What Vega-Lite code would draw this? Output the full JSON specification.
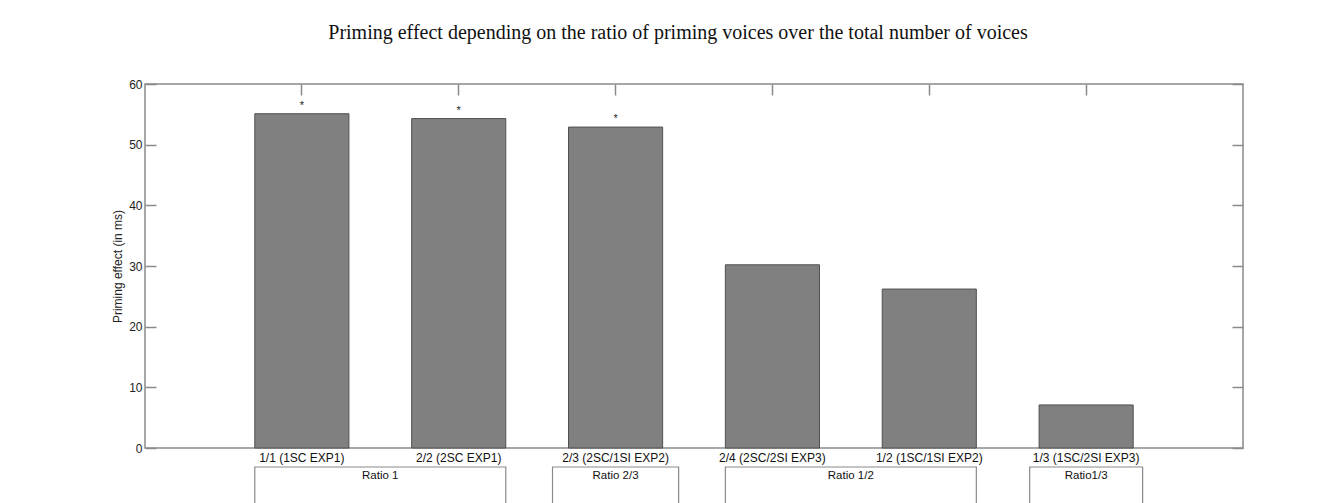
{
  "$schema": "https://vega.github.io/schema/vega-lite/v6.json",
  "width": 1098,
  "height": 364,
  "autosize": {"type": "none"},
  "padding": {"left": 145, "top": 84, "right": 99, "bottom": 55},
  "background": "white",
  "title": {
    "text": "Priming effect depending on the ratio of priming voices over the total number of voices",
    "font": "Liberation Serif",
    "fontSize": 20,
    "fontWeight": "normal",
    "color": "#111111",
    "anchor": "middle",
    "frame": "group",
    "dx": -16,
    "offset": 35
  },
  "config": {
    "view": {"stroke": "#8a8a8a", "strokeWidth": 1.5},
    "font": "Liberation Sans"
  },
  "datasets": {
    "bars": [
      {"condition": "1/1 (1SC EXP1)", "effect": 55.1, "sig": "*"},
      {"condition": "2/2 (2SC EXP1)", "effect": 54.3, "sig": "*"},
      {"condition": "2/3 (2SC/1SI EXP2)", "effect": 52.9, "sig": "*"},
      {"condition": "2/4 (2SC/2SI EXP3)", "effect": 30.2, "sig": ""},
      {"condition": "1/2 (1SC/1SI EXP2)", "effect": 26.2, "sig": ""},
      {"condition": "1/3 (1SC/2SI EXP3)", "effect": 7.1, "sig": ""}
    ],
    "pairs": [
      {"group": "Ratio 1", "first": "1/1 (1SC EXP1)", "last": "2/2 (2SC EXP1)"},
      {"group": "Ratio 1/2", "first": "2/4 (2SC/2SI EXP3)", "last": "1/2 (1SC/1SI EXP2)"}
    ],
    "singles": [
      {"group": "Ratio 2/3", "bar": "2/3 (2SC/1SI EXP2)"},
      {"group": "Ratio1/3", "bar": "1/3 (1SC/2SI EXP3)"}
    ]
  },
  "layer": [
    {
      "data": {"name": "bars"},
      "mark": {"type": "bar", "fill": "#808080", "stroke": "#505050", "strokeWidth": 1},
      "encoding": {
        "x": {
          "field": "condition",
          "type": "nominal",
          "scale": {
            "domain": ["1/1 (1SC EXP1)", "2/2 (2SC EXP1)", "2/3 (2SC/1SI EXP2)", "2/4 (2SC/2SI EXP3)", "1/2 (1SC/1SI EXP2)", "1/3 (1SC/2SI EXP3)"],
            "paddingInner": 0.4,
            "paddingOuter": 0.7
          },
          "axis": {
            "orient": "bottom",
            "title": null,
            "labelAngle": 0,
            "ticks": false,
            "domain": false,
            "labelFontSize": 12,
            "labelColor": "#111111",
            "labelPadding": 4,
            "labelBaseline": "top"
          }
        },
        "y": {
          "field": "effect",
          "type": "quantitative",
          "scale": {"domain": [0, 60], "nice": false, "zero": true},
          "axis": {
            "orient": "left",
            "values": [0, 10, 20, 30, 40, 50, 60],
            "title": "Priming effect (in ms)",
            "titleFontSize": 12,
            "titleFontWeight": "normal",
            "titleColor": "#222222",
            "titlePadding": 4,
            "grid": false,
            "domain": false,
            "tickSize": -11,
            "tickColor": "#8a8a8a",
            "tickWidth": 1.5,
            "labelPadding": 14,
            "labelFontSize": 12,
            "labelColor": "#222222"
          }
        }
      }
    },
    {
      "data": {"name": "bars"},
      "mark": {"type": "text", "fontSize": 11, "baseline": "alphabetic", "dy": -5, "color": "#222222"},
      "encoding": {
        "x": {
          "field": "condition",
          "type": "nominal",
          "scale": {
            "domain": ["1/1 (1SC EXP1)", "2/2 (2SC EXP1)", "2/3 (2SC/1SI EXP2)", "2/4 (2SC/2SI EXP3)", "1/2 (1SC/1SI EXP2)", "1/3 (1SC/2SI EXP3)"]
          },
          "axis": {
            "orient": "top",
            "labels": false,
            "title": null,
            "domain": false,
            "tickSize": -11,
            "tickColor": "#8a8a8a",
            "tickWidth": 1.5
          }
        },
        "y": {
          "field": "effect",
          "type": "quantitative",
          "axis": {
            "orient": "right",
            "labels": false,
            "title": null,
            "domain": false,
            "grid": false,
            "values": [0, 10, 20, 30, 40, 50, 60],
            "tickSize": -11,
            "tickColor": "#8a8a8a",
            "tickWidth": 1.5
          }
        },
        "text": {"field": "sig"}
      }
    },
    {
      "data": {"name": "pairs"},
      "mark": {"type": "rect", "fill": "white", "stroke": "#8a8a8a", "strokeWidth": 1.2},
      "encoding": {
        "x": {
          "field": "first",
          "type": "nominal",
          "bandPosition": 0,
          "scale": {
            "domain": ["1/1 (1SC EXP1)", "2/2 (2SC EXP1)", "2/3 (2SC/1SI EXP2)", "2/4 (2SC/2SI EXP3)", "1/2 (1SC/1SI EXP2)", "1/3 (1SC/2SI EXP3)"]
          },
          "axis": null
        },
        "x2": {"field": "last", "bandPosition": 1},
        "y": {"datum": -3.13, "type": "quantitative", "axis": null},
        "y2": {"datum": -12}
      }
    },
    {
      "data": {"name": "singles"},
      "transform": [{"filter": "datum.group === 'Ratio 2/3'"}],
      "mark": {"type": "rect", "fill": "white", "stroke": "#8a8a8a", "strokeWidth": 1.2},
      "encoding": {
        "x": {
          "field": "bar",
          "type": "nominal",
          "bandPosition": -0.17,
          "scale": {
            "domain": ["1/1 (1SC EXP1)", "2/2 (2SC EXP1)", "2/3 (2SC/1SI EXP2)", "2/4 (2SC/2SI EXP3)", "1/2 (1SC/1SI EXP2)", "1/3 (1SC/2SI EXP3)"]
          },
          "axis": null
        },
        "x2": {"field": "bar", "bandPosition": 1.17},
        "y": {"datum": -3.13, "type": "quantitative", "axis": null},
        "y2": {"datum": -12}
      }
    },
    {
      "data": {"name": "singles"},
      "transform": [{"filter": "datum.group === 'Ratio1/3'"}],
      "mark": {"type": "rect", "fill": "white", "stroke": "#8a8a8a", "strokeWidth": 1.2},
      "encoding": {
        "x": {
          "field": "bar",
          "type": "nominal",
          "bandPosition": -0.1,
          "scale": {
            "domain": ["1/1 (1SC EXP1)", "2/2 (2SC EXP1)", "2/3 (2SC/1SI EXP2)", "2/4 (2SC/2SI EXP3)", "1/2 (1SC/1SI EXP2)", "1/3 (1SC/2SI EXP3)"]
          },
          "axis": null
        },
        "x2": {"field": "bar", "bandPosition": 1.1},
        "y": {"datum": -3.13, "type": "quantitative", "axis": null},
        "y2": {"datum": -12}
      }
    },
    {
      "data": {"name": "pairs"},
      "mark": {"type": "text", "fontSize": 11.5, "baseline": "middle", "dy": 9.5, "color": "#111111"},
      "encoding": {
        "x": {
          "field": "first",
          "type": "nominal",
          "bandPosition": 1.333,
          "scale": {
            "domain": ["1/1 (1SC EXP1)", "2/2 (2SC EXP1)", "2/3 (2SC/1SI EXP2)", "2/4 (2SC/2SI EXP3)", "1/2 (1SC/1SI EXP2)", "1/3 (1SC/2SI EXP3)"]
          },
          "axis": null
        },
        "y": {"datum": -3.13, "type": "quantitative", "axis": null},
        "text": {"field": "group"}
      }
    },
    {
      "data": {"name": "singles"},
      "mark": {"type": "text", "fontSize": 11.5, "baseline": "middle", "dy": 9.5, "color": "#111111"},
      "encoding": {
        "x": {
          "field": "bar",
          "type": "nominal",
          "bandPosition": 0.5,
          "scale": {
            "domain": ["1/1 (1SC EXP1)", "2/2 (2SC EXP1)", "2/3 (2SC/1SI EXP2)", "2/4 (2SC/2SI EXP3)", "1/2 (1SC/1SI EXP2)", "1/3 (1SC/2SI EXP3)"]
          },
          "axis": null
        },
        "y": {"datum": -3.13, "type": "quantitative", "axis": null},
        "text": {"field": "group"}
      }
    }
  ],
  "resolve": {"axis": {"x": "independent", "y": "independent"}}
}
